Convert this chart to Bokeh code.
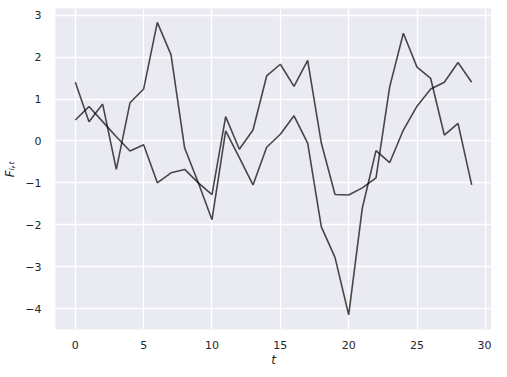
from bokeh.plotting import figure
from bokeh.models import Range1d, FixedTicker
from bokeh.embed import file_html
from bokeh.resources import INLINE

t = list(range(30))
series_a = [1.40, 0.46, 0.88, -0.68, 0.91, 1.24, 2.83, 2.06, -0.17, -1.00,
            -1.88, 0.24, -0.40, -1.05, -0.15, 0.16, 0.60, -0.05, -2.05, -2.78,
            -4.15, -1.60, -0.23, -0.52, 0.26, 0.83, 1.24, 1.40, 1.87, 1.40]
series_b = [0.50, 0.82, 0.46, 0.10, -0.24, -0.09, -1.00, -0.76, -0.68, -1.00,
            -1.28, 0.58, -0.20, 0.26, 1.55, 1.83, 1.30, 1.92, -0.05, -1.28,
            -1.29, -1.12, -0.88, 1.29, 2.57, 1.76, 1.49, 0.14, 0.42, -1.05]
x_ticks = [0, 5, 10, 15, 20, 25, 30]
y_ticks = [-4, -3, -2, -1, 0, 1, 2, 3]

p = figure(width=491, height=369, output_backend="svg", toolbar_location=None,
           x_range=Range1d(-1.45, 30.45), y_range=Range1d(-4.50, 3.16),
           min_border_left=46, min_border_right=0, min_border_top=8,
           min_border_bottom=30)
p.background_fill_color = "#EAEAF2"
p.border_fill_color = "white"
p.outline_line_color = None

for s in (series_a, series_b):
    p.line(t, s, line_color="black", line_alpha=0.7, line_width=1.6)

for ax in (p.xaxis[0], p.yaxis[0]):
    ax.axis_line_color = None
    ax.major_tick_line_color = None
    ax.minor_tick_line_color = None
    ax.major_label_text_font = "DejaVu Sans"
    ax.major_label_text_font_size = "11px"
    ax.major_label_text_color = "#262626"
    ax.axis_label_text_font = "DejaVu Sans"
    ax.axis_label_text_font_size = "12px"
    ax.axis_label_text_font_style = "italic"
    ax.axis_label_text_color = "#262626"

p.xaxis.ticker = FixedTicker(ticks=x_ticks)
p.yaxis.ticker = FixedTicker(ticks=y_ticks)
p.yaxis.major_label_overrides = {v: (("\u2212" + str(-v)) if v < 0 else str(v)) for v in y_ticks}
p.xaxis.major_label_standoff = 5
p.yaxis.major_label_standoff = 8
p.xaxis.axis_label = "t"
p.yaxis.axis_label = "F\u1d62,\u209c"
p.xaxis.axis_label_standoff = 1
p.yaxis.axis_label_standoff = 5

p.xgrid.grid_line_color = "white"
p.ygrid.grid_line_color = "white"
p.xgrid.grid_line_width = 1.3
p.ygrid.grid_line_width = 1.3

open("out.html", "w").write(file_html(p, INLINE))
